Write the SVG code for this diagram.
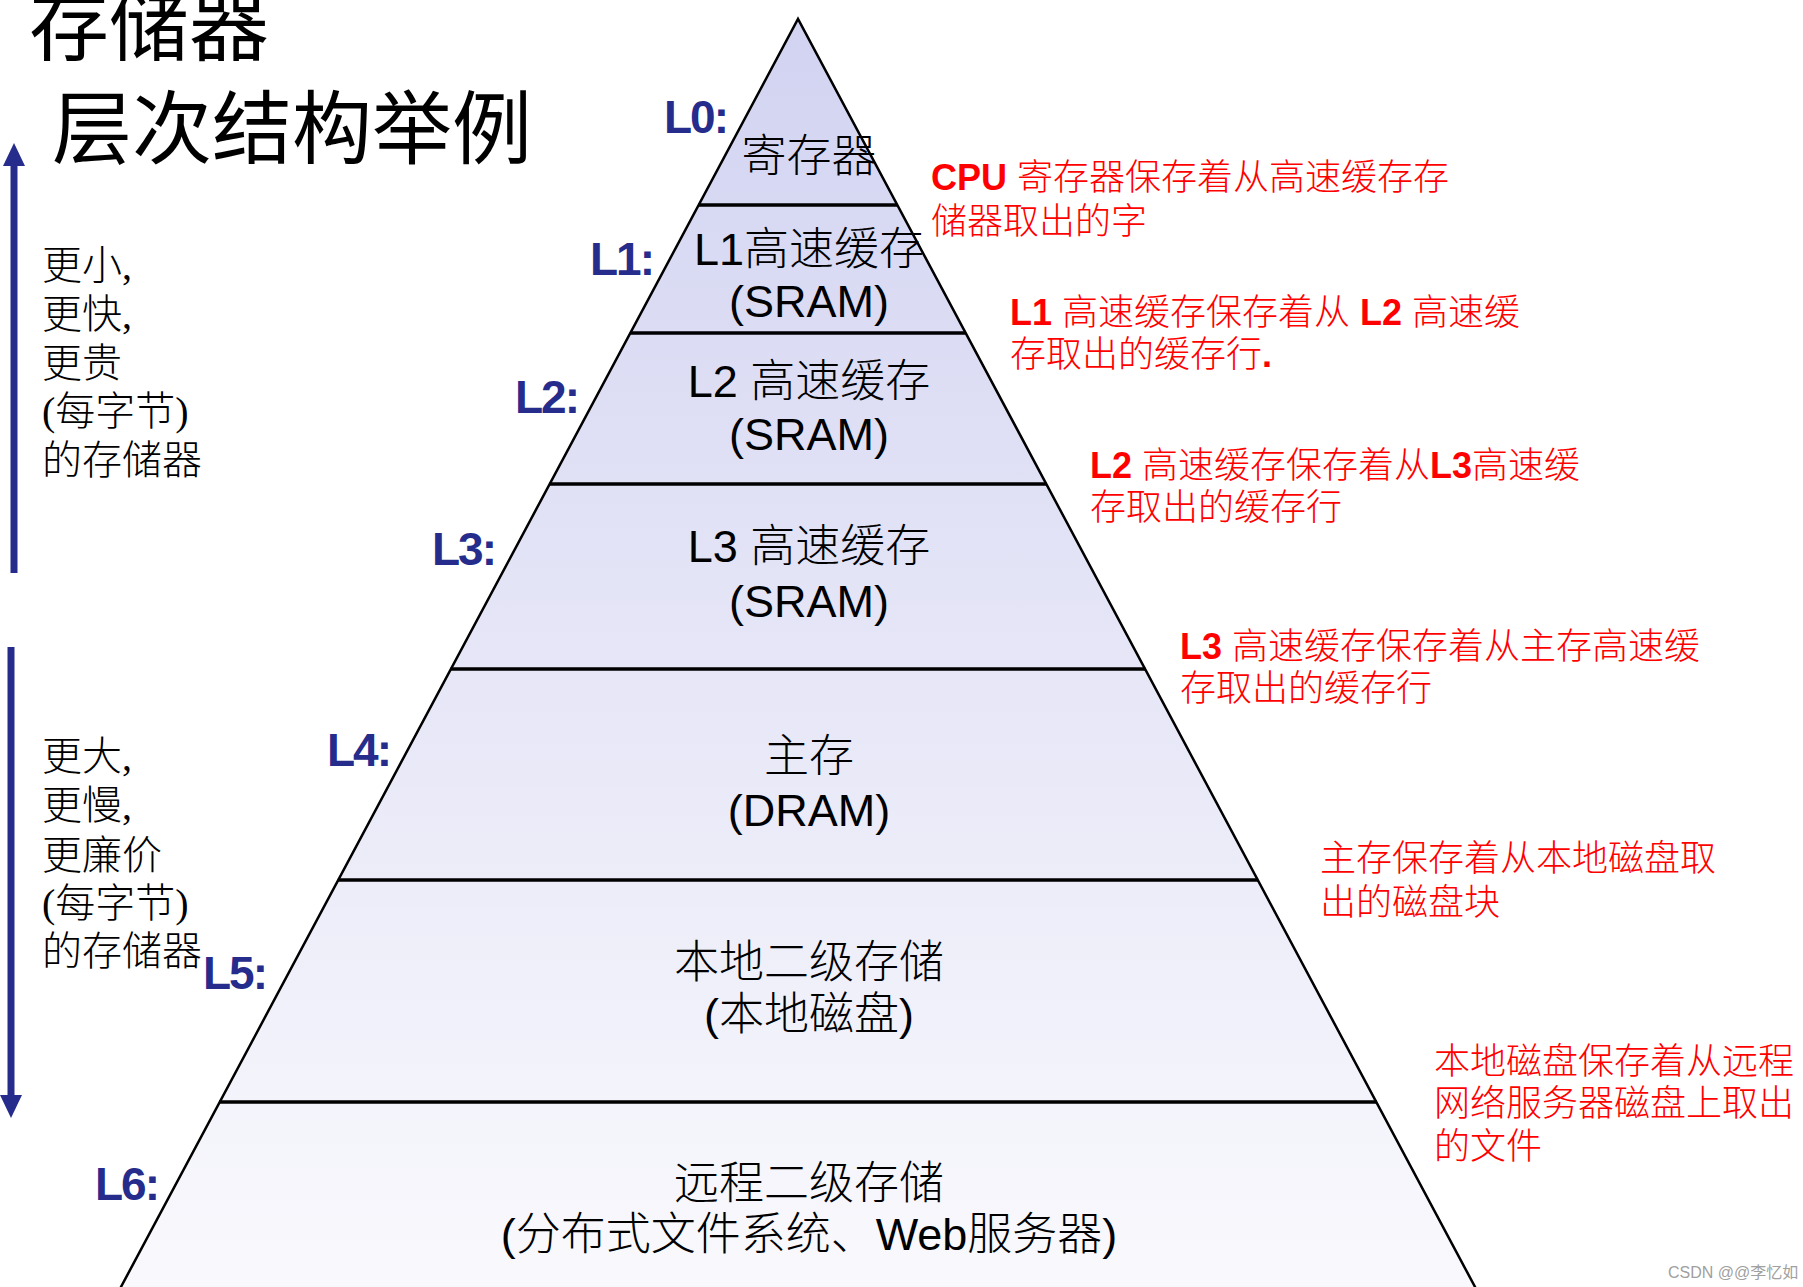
<svg xmlns="http://www.w3.org/2000/svg" width="1803" height="1287" viewBox="0 0 1803 1287">
<defs>
<linearGradient id="pyr" gradientUnits="userSpaceOnUse" x1="0" y1="19" x2="0" y2="1287">
<stop offset="0" stop-color="#D2D3F1"/>
<stop offset="1" stop-color="#F9F9FD"/>
</linearGradient>
</defs>
<style>
.lvl{font-family:"Liberation Sans","Noto Sans CJK SC",sans-serif;font-weight:bold;font-size:46px;fill:#262C8C;letter-spacing:-2px}
.band{font-family:"Liberation Sans","Noto Sans CJK SC",sans-serif;font-size:45px;fill:#000;text-anchor:middle;font-weight:300}
.note{font-family:"Liberation Sans","Noto Sans CJK SC",sans-serif;font-size:36px;fill:#FF0000;font-weight:300}
.b{font-weight:bold}
.side{font-family:"Liberation Serif","Noto Sans CJK SC",serif;font-size:40px;fill:#000;font-weight:300}
.title{font-family:"Noto Sans CJK SC",sans-serif;font-size:80px;fill:#000}
.fill{fill:url(#pyr);stroke:none}
.sep{stroke:#000;stroke-width:3.5}
.edge{fill:none;stroke:#000;stroke-width:2.5}
.arrow{fill:#262C8C}
.wm{font-family:"Liberation Sans","Noto Sans CJK SC",sans-serif;font-size:16px;fill:#A0A0A0}
</style>
<rect width="1803" height="1287" fill="#FFFFFF"/>

<g id="title">
<text class="title" x="29" y="54">存储器</text>
<text class="title" x="52" y="157">层次结构举例</text>
</g>

<g id="band-L0">
<polygon class="fill" points="798,19 698.6,205 897.4,205"/>
<text class="band" x="809" y="172">寄存器</text>
</g>
<g id="band-L1">
<polygon class="fill" points="698.6,205 897.4,205 965.8,333 630.2,333"/>
<text class="band" x="809" y="265">L1高速缓存</text>
<text class="band" x="809" y="317">(SRAM)</text>
</g>
<g id="band-L2">
<polygon class="fill" points="630.2,333 965.8,333 1046.5,484 549.5,484"/>
<text class="band" x="809" y="397">L2 高速缓存</text>
<text class="band" x="809" y="450">(SRAM)</text>
</g>
<g id="band-L3">
<polygon class="fill" points="549.5,484 1046.5,484 1145.4,669 450.6,669"/>
<text class="band" x="809" y="562">L3 高速缓存</text>
<text class="band" x="809" y="617">(SRAM)</text>
</g>
<g id="band-L4">
<polygon class="fill" points="450.6,669 1145.4,669 1258.1,880 337.9,880"/>
<text class="band" x="809" y="772">主存</text>
<text class="band" x="809" y="826">(DRAM)</text>
</g>
<g id="band-L5">
<polygon class="fill" points="337.9,880 1258.1,880 1376.8,1102 219.2,1102"/>
<text class="band" x="809" y="978">本地二级存储</text>
<text class="band" x="809" y="1030">(本地磁盘)</text>
</g>
<g id="band-L6">
<polygon class="fill" points="219.2,1102 1376.8,1102 1475.6,1287 120.4,1287"/>
<text class="band" x="809" y="1199">远程二级存储</text>
<text class="band" x="809" y="1250">(分布式文件系统、Web服务器)</text>
</g>

<g id="outline">
<path class="edge" d="M120.4,1288 L798,19 L1475.6,1288"/>
<line class="sep" x1="698.6" y1="205" x2="897.4" y2="205"/>
<line class="sep" x1="630.2" y1="333" x2="965.8" y2="333"/>
<line class="sep" x1="549.5" y1="484" x2="1046.5" y2="484"/>
<line class="sep" x1="450.6" y1="669" x2="1145.4" y2="669"/>
<line class="sep" x1="337.9" y1="880" x2="1258.1" y2="880"/>
<line class="sep" x1="219.2" y1="1102" x2="1376.8" y2="1102"/>
</g>

<g id="labels">
<text class="lvl" x="664" y="133">L0:</text>
<text class="lvl" x="590" y="275">L1:</text>
<text class="lvl" x="515" y="413">L2:</text>
<text class="lvl" x="432" y="565">L3:</text>
<text class="lvl" x="327" y="766">L4:</text>
<text class="lvl" x="203" y="989">L5:</text>
<text class="lvl" x="95" y="1200">L6:</text>
</g>

<g id="notes">
<text class="note" x="931" y="190"><tspan class="b">CPU</tspan> 寄存器保存着从高速缓存存</text>
<text class="note" x="931" y="234">储器取出的字</text>
<text class="note" x="1010" y="325"><tspan class="b">L1</tspan> 高速缓存保存着从 <tspan class="b">L2</tspan> 高速缓</text>
<text class="note" x="1010" y="367">存取出的缓存行<tspan class="b">.</tspan></text>
<text class="note" x="1090" y="478"><tspan class="b">L2</tspan> 高速缓存保存着从<tspan class="b">L3</tspan>高速缓</text>
<text class="note" x="1090" y="520">存取出的缓存行</text>
<text class="note" x="1180" y="659"><tspan class="b">L3</tspan> 高速缓存保存着从主存高速缓</text>
<text class="note" x="1180" y="701">存取出的缓存行</text>
<text class="note" x="1320" y="871">主存保存着从本地磁盘取</text>
<text class="note" x="1320" y="915">出的磁盘块</text>
<text class="note" x="1434" y="1074">本地磁盘保存着从远程</text>
<text class="note" x="1434" y="1116">网络服务器磁盘上取出</text>
<text class="note" x="1434" y="1159">的文件</text>
</g>

<g id="side-up">
<text class="side" x="42" y="279">更小,</text>
<text class="side" x="42" y="328">更快,</text>
<text class="side" x="42" y="377">更贵</text>
<text class="side" x="42" y="425">(每字节)</text>
<text class="side" x="42" y="474">的存储器</text>
</g>
<g id="side-down">
<text class="side" x="42" y="770">更大,</text>
<text class="side" x="42" y="819">更慢,</text>
<text class="side" x="42" y="869">更廉价</text>
<text class="side" x="42" y="917">(每字节)</text>
<text class="side" x="42" y="965">的存储器</text>
</g>

<g id="connectors">
<rect class="arrow" x="10.5" y="163" width="7" height="410"/>
<polygon class="arrow" points="14,143 3,166 25,166"/>
<rect class="arrow" x="7.5" y="647" width="7" height="450"/>
<polygon class="arrow" points="11,1118 0,1095 22,1095"/>
</g>

<text class="wm" x="1668" y="1278">CSDN @@李忆如</text>
</svg>
